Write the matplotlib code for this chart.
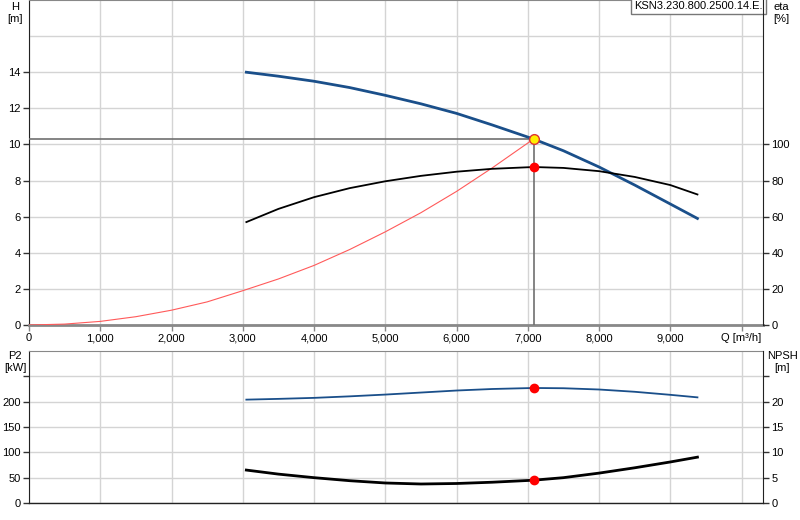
import numpy as np
import matplotlib
matplotlib.use("Agg")
import matplotlib.pyplot as plt

plt.rcParams['font.family'] = ['Liberation Sans', 'DejaVu Sans']
plt.rcParams['font.size'] = 8

# pump curve data
q_pump = [3050, 3500, 4000, 4500, 5000, 5500, 6000, 6500, 7080, 7500, 8000, 8500, 9000, 9380]
h_pump = [14.0, 13.78, 13.5, 13.15, 12.72, 12.25, 11.72, 11.08, 10.3, 9.65, 8.75, 7.75, 6.7, 5.9]
eta_pump = [57.0, 64.3, 70.8, 75.8, 79.6, 82.6, 84.9, 86.5, 87.5, 87.0, 85.2, 82.0, 77.5, 72.3]

q_sys = [0, 500, 1000, 1500, 2000, 2500, 3000, 3500, 4000, 4500, 5000, 5500, 6000, 6500, 7080]
h_sys = [0.0, 0.05, 0.2, 0.46, 0.82, 1.28, 1.9, 2.55, 3.3, 4.18, 5.16, 6.22, 7.4, 8.7, 10.3]

q_low = [3050, 3500, 4000, 4500, 5000, 5500, 6000, 6500, 7080, 7500, 8000, 8500, 9000, 9380]
p2 = [204, 205.5, 207.5, 210.5, 214, 218, 222, 225, 227, 226.5, 224, 219.5, 213.5, 208.5]
npsh = [6.5, 5.7, 5.0, 4.4, 3.95, 3.75, 3.85, 4.1, 4.5, 5.0, 5.9, 6.95, 8.1, 9.05]

q_op = 7080
h_op = 10.3
eta_op = 87.5
p2_op = 227
npsh_op = 4.5

model = "KSN3.230.800.2500.14.E."
x_ticks = list(range(0, 10001, 1000))
x_labels = ["0", "1,000", "2,000", "3,000", "4,000", "5,000", "6,000",
            "7,000", "8,000", "9,000", "Q [m\u00b3/h]"]

BLUE = "#1a4f8a"
GRID = "#d4d4d4"
W, H = 800, 520

fig = plt.figure(figsize=(8, 5.2), dpi=100)


def px_axes(l, t, r, b):
    return fig.add_axes([l / W, 1 - b / H, (r - l) / W, (b - t) / H])


def style(ax, yl, yticks):
    ax.set_xlim(0, 10300)
    ax.set_ylim(*yl)
    ax.set_xticks(x_ticks)
    ax.set_yticks(yticks)
    ax.grid(True, color=GRID, linewidth=1)
    ax.set_axisbelow(True)
    ax.tick_params(length=4, width=1, color="#333333", pad=2)
    ax.spines['left'].set_color("#222222")
    ax.spines['top'].set_color("#888888")
    ax.spines['right'].set_visible(False)
    ax.spines['bottom'].set_color("#888888")
    ax.spines['bottom'].set_linewidth(2)


def right_axis(ax, top, ticks, labels):
    r = ax.twinx()
    r.set_ylim(0, top)
    r.set_yticks(ticks)
    r.set_yticklabels(labels)
    r.tick_params(length=4, width=1, color="#333333", pad=2)
    for s in ['top', 'left', 'bottom']:
        r.spines[s].set_visible(False)
    r.spines['right'].set_color("#222222")
    return r


# upper chart: head and efficiency
ax1 = px_axes(29, 0, 763, 325)
style(ax1, (0, 18), range(0, 15, 2))
ax1.axhline(16, color=GRID, linewidth=1, zorder=0)
ax1.set_xticklabels(x_labels)
ax1.tick_params(axis='x', length=4, color="#888888")

ax1.plot([0, q_op], [h_op, h_op], color="#707070", linewidth=1.2, zorder=3)
ax1.plot([q_op, q_op], [0, h_op], color="#707070", linewidth=1.2, zorder=3)
ax1.plot(q_sys, h_sys, color="#ff5a5a", linewidth=0.8, zorder=4)
ax1.plot(q_pump, h_pump, color=BLUE, linewidth=2, zorder=5)

ax1r = right_axis(ax1, 180, range(0, 101, 20), [str(v) for v in range(0, 101, 20)])
ax1r.plot(q_pump, eta_pump, color="black", linewidth=1.3, zorder=5)
ax1r.plot(q_op, eta_op, 'o', color="red", markersize=6, zorder=6)
ax1.plot(q_op, h_op, 'o', markerfacecolor="#ffee00", markeredgecolor="#dd3333",
         markersize=7, zorder=7)
ax1r.set_zorder(ax1.get_zorder() + 1)

ax1.text(0.9995, 0.997, model, transform=ax1.transAxes, ha="right", va="top",
         fontsize=8, zorder=10,
         bbox=dict(boxstyle="square,pad=0.3", facecolor="white", edgecolor="#777777", linewidth=1))

fig.text(15 / W, 1 - 7 / H, "H", ha="center", va="center")
fig.text(15 / W, 1 - 19 / H, "[m]", ha="center", va="center")
fig.text(781 / W, 1 - 7 / H, "eta", ha="center", va="center")
fig.text(781 / W, 1 - 19 / H, "[%]", ha="center", va="center")

# lower chart: power and NPSH
ax2 = px_axes(29, 351, 763, 503)
style(ax2, (0, 300), range(0, 251, 50))
ax2.set_yticklabels([str(v) for v in range(0, 201, 50)] + [""])
ax2.set_xticklabels([])
ax2.tick_params(axis='x', length=0)
ax2.spines['bottom'].set_color("#222222")
ax2.spines['bottom'].set_linewidth(1)
ax2.plot(q_low, p2, color=BLUE, linewidth=1.3, zorder=5)
ax2.plot(q_op, p2_op, 'o', color="red", markersize=6, zorder=6)

ax2r = right_axis(ax2, 30, range(0, 26, 5), [str(v) for v in range(0, 21, 5)] + [""])
ax2r.plot(q_low, npsh, color="black", linewidth=2, zorder=5)
ax2r.plot(q_op, npsh_op, 'o', color="red", markersize=6, zorder=6)

fig.text(15 / W, 1 - 356 / H, "P2", ha="center", va="center")
fig.text(15 / W, 1 - 368 / H, "[kW]", ha="center", va="center")
fig.text(782 / W, 1 - 356 / H, "NPSH", ha="center", va="center")
fig.text(782 / W, 1 - 368 / H, "[m]", ha="center", va="center")

fig.savefig("out.png", dpi=100)
